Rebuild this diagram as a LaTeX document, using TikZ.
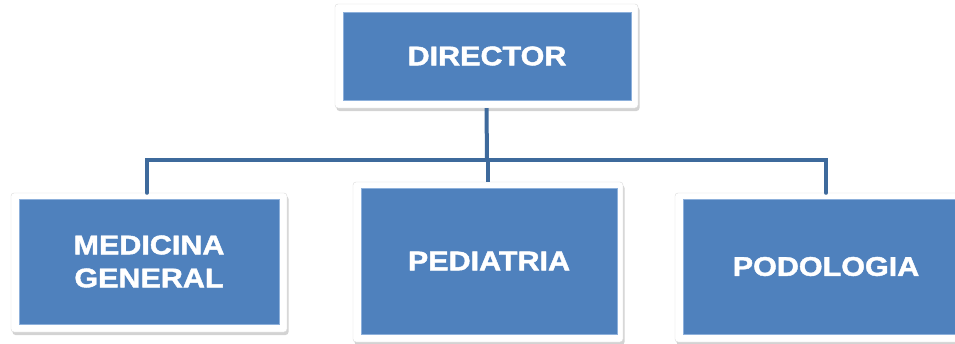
\documentclass[tikz,border=0pt]{standalone}
\usepackage{fontspec}
\setmainfont{Liberation Sans}[FakeStretch=1.13, BoldFeatures={FakeBold=1.6}]
\usetikzlibrary{shadows}
\definecolor{boxblue}{HTML}{4F81BD}
\definecolor{boxedge}{HTML}{8DB0DB}
\definecolor{linkblue}{HTML}{3E6A9C}
\tikzset{
  frame/.style={draw=black!15, fill=white, rounded corners=3pt,
    drop shadow={shadow xshift=1.5pt, shadow yshift=-3pt, opacity=0.35},
    inner sep=0pt},
  unit/.style={draw=boxedge, line width=0.8pt, fill=boxblue, inner sep=0pt,
    text=white, font=\bfseries\fontsize{27}{33}\selectfont, align=center},
  link/.style={draw=linkblue, line width=4pt}
}
\begin{document}
\begin{tikzpicture}[x=1pt,y=-1pt]
\useasboundingbox (0,0) rectangle (955,343);
% director
\node[frame, minimum width=303pt, minimum height=104pt] (dir) at (486.5,56) {};
\node[unit, minimum width=288pt, minimum height=88pt] (dirin) at (487,56) {DIRECTOR};
% medicina general
\node[frame, minimum width=276pt, minimum height=139pt] (med) at (149,262.5) {};
\node[unit, minimum width=260pt, minimum height=125pt] (medin) at (149,261.5) {MEDICINA\\GENERAL};
% pediatria
\node[frame, minimum width=270pt, minimum height=160pt] (ped) at (488,262) {};
\node[unit, minimum width=256pt, minimum height=146pt] (pedin) at (489,261) {PEDIATRIA};
% podologia
\node[frame, minimum width=302pt, minimum height=149pt] (pod) at (826,267.5) {};
\node[unit, minimum width=286pt, minimum height=135pt] (podin) at (826,266.5) {PODOLOGIA};
% connectors
\coordinate (bus) at (487,160);
\draw[link] (dir.south) -- (bus);
\draw[link] ([xshift=1pt]bus) -- (ped.north);
\draw[link, line cap=round] ([xshift=-2pt]med.north) |- (bus) -| (pod.north);
\end{tikzpicture}
\end{document}
